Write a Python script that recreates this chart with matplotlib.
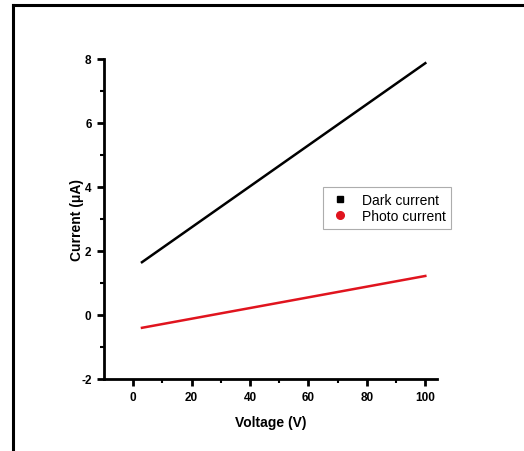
import matplotlib
matplotlib.use("Agg")
import matplotlib.pyplot as plt
from matplotlib.lines import Line2D

plt.rcParams['font.family'] = ['Liberation Sans', 'DejaVu Sans']
plt.rcParams['axes.unicode_minus'] = False

voltage = [3, 100]
dark_current = [1.65, 7.87]
photo_current = [-0.40, 1.22]

fig = plt.figure(figsize=(5.24, 4.52), dpi=100)
ax = fig.add_axes([104/524, 72/452, (437-104)/524, (380-60)/452])

ax.plot(voltage, dark_current, color='black', lw=1.8)
ax.plot(voltage, photo_current, color='#e0141e', lw=1.8)

ax.set_xlim(-10, 104)
ax.set_ylim(-2, 8)
ax.set_xticks([0, 20, 40, 60, 80, 100])
ax.set_xticks(range(10, 100, 20), minor=True)
ax.set_yticks([-2, 0, 2, 4, 6, 8])
ax.set_yticks([-1, 1, 3, 5, 7], minor=True)
for s in ['top', 'right']:
    ax.spines[s].set_visible(False)
for s in ['left', 'bottom']:
    ax.spines[s].set_linewidth(2)
ax.tick_params(which='major', direction='out', length=5, width=2, labelsize=8.5, pad=4)
ax.tick_params(which='minor', direction='out', length=3, width=1.5)
for lab in ax.get_xticklabels() + ax.get_yticklabels():
    lab.set_fontweight('bold')

ax.set_xlabel('Voltage (V)', fontsize=10, fontweight='bold', labelpad=8)
ax.set_ylabel('Current (μA)', fontsize=10, fontweight='bold', labelpad=-2)

handles = [Line2D([], [], ls='none', marker='s', color='black', markersize=5),
           Line2D([], [], ls='none', marker='o', color='#e0141e', markersize=5.5)]
leg = ax.legend(handles, ['Dark current', 'Photo current'], loc='upper left',
                bbox_to_anchor=((323-104)/333, (380-188)/320), fontsize=10,
                frameon=True, fancybox=False, edgecolor='#999999',
                handletextpad=0.8, borderpad=0.4, labelspacing=0.2,
                handlelength=1.6, borderaxespad=0)
leg.get_frame().set_linewidth(0.8)

fig.add_artist(Line2D([13/524, 13/524], [0, 1 - 6/452], color='black', lw=2.2,
                      transform=fig.transFigure))
fig.add_artist(Line2D([13/524, 1], [1 - 6/452, 1 - 6/452], color='black', lw=2.2,
                      transform=fig.transFigure))

fig.savefig('out.png', dpi=100)
